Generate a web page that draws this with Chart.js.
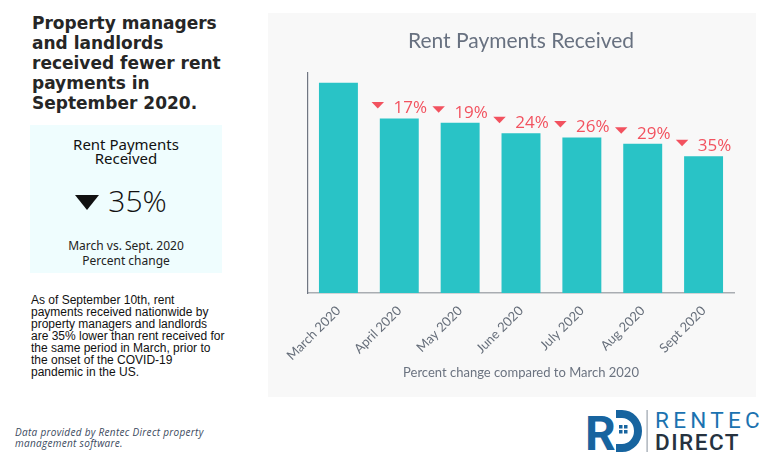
<!DOCTYPE html>
<html>
<head>
<meta charset="utf-8">
<script src="https://cdn.jsdelivr.net/npm/chart.js@4.4.0/dist/chart.umd.min.js"></script>
<style>
  body { margin: 0; width: 771px; height: 465px; background: #fff; position: relative; overflow: hidden; }
  .abs { position: absolute; }
  #heading { left: 32px; top: 13px; font: 700 17px/20px "DejaVu Sans", sans-serif; color: #262626; }
  #card { left: 30px; top: 125px; width: 192px; height: 148px; background: #effdfe; text-align: center; color: #111; }
  #card .t1 { position: absolute; left: 0; right: 0; top: 12px; font: 400 15px/14px "Noto Sans", sans-serif; }
  #card .big { position: absolute; left: 0; right: 10px; top: 61px; font: 300 30px/30px "Open Sans", sans-serif; }
  #card .tri { display: inline-block; width: 0; height: 0; border-left: 12px solid transparent; border-right: 12px solid transparent; border-top: 15px solid #111; margin-right: 9px; vertical-align: 2px; }
  #card .sub { position: absolute; left: 0; right: 0; top: 113px; font: 400 12px/15px "Noto Sans", sans-serif; color: #222; }
  #para { left: 31px; top: 294px; font: 400 12px/12px "Liberation Sans", Arial, sans-serif; color: #111; }
  #foot { left: 15px; top: 427px; font: italic 400 10px/11px "Open Sans", sans-serif; color: #3b4a5e; letter-spacing: 0.3px; }
  #panel { left: 268px; top: 13px; width: 488px; height: 384px; background: #f8f8f8; }
  #logo { left: 585px; top: 406px; }
</style>
</head>
<body>
<div id="heading" class="abs">Property managers<br>and landlords<br>received fewer rent<br>payments in<br>September 2020.</div>

<div id="card" class="abs">
  <div class="t1">Rent Payments<br>Received</div>
  <div class="big"><span class="tri"></span>35%</div>
  <div class="sub">March vs. Sept. 2020<br>Percent change</div>
</div>

<div id="para" class="abs">As of September 10th, rent<br>payments received nationwide by<br>property managers and landlords<br>are 35% lower than rent received for<br>the same period in March, prior to<br>the onset of the COVID-19<br>pandemic in the US.</div>

<div id="foot" class="abs">Data provided by Rentec Direct property<br>management software.</div>

<div id="panel" class="abs"><canvas id="chart" width="488" height="384"></canvas></div>

<svg id="logo" class="abs" width="175" height="50" viewBox="0 0 175 50">
  <text x="0" y="44" font-family="Roboto, sans-serif" font-weight="700" font-size="48" fill="#17649f">R</text>
  <path d="M31 4 h6 a20 21 0 0 1 0 42 h-6 v-8 h6 a12 13 0 0 0 0 -26 h-6 z" fill="#17649f"/>
  <rect x="34" y="19" width="3.5" height="3.5" fill="#17649f"/>
  <rect x="39" y="19" width="3.5" height="3.5" fill="#17649f"/>
  <rect x="34" y="24" width="3.5" height="3.5" fill="#17649f"/>
  <rect x="39" y="24" width="3.5" height="3.5" fill="#17649f"/>
  <rect x="61.5" y="4" width="1.2" height="42" fill="#9aa3ad"/>
  <text x="70" y="22" font-family="Roboto, sans-serif" font-weight="400" font-size="22.5" letter-spacing="4.3" fill="#1b72b0">RENTEC</text>
  <text x="70" y="44" font-family="Roboto, sans-serif" font-weight="500" font-size="22.5" letter-spacing="1.5" fill="#26323f">DIRECT</text>
</svg>

<script>
// Rent payments received, indexed to March 2020 = 100
const months = ['March 2020', 'April 2020', 'May 2020', 'June 2020', 'July 2020', 'Aug 2020', 'Sept 2020'];
const pctDrop = [0, 17, 19, 24, 26, 29, 35];
const received = [100, 83, 81, 76, 74, 71, 65];

const barColor = '#29c3c6';
const dropColor = '#f2525f';

// draws "▼ 17%" above every bar after the first
const dropLabels = {
    id: 'dropLabels',
    afterDatasetsDraw(chart) {
        const ctx = chart.ctx;
        const meta = chart.getDatasetMeta(0);
        ctx.save();
        ctx.font = '400 17px "Open Sans", sans-serif';
        ctx.fillStyle = dropColor;
        ctx.textBaseline = 'alphabetic';
        meta.data.forEach((bar, i) => {
            if (i === 0) return;
            const txt = pctDrop[i] + '%';
            const tw = ctx.measureText(txt).width;
            const triW = 12.5, gap = 9.5;
            const left = bar.x - (triW + gap + tw) / 2;
            const top = bar.y;
            ctx.beginPath();
            ctx.moveTo(left, top - 16.5);
            ctx.lineTo(left + triW, top - 16.5);
            ctx.lineTo(left + triW / 2, top - 10);
            ctx.closePath();
            ctx.fill();
            ctx.fillText(txt, left + triW + gap, top - 5);
        });
        ctx.restore();
    }
};

new Chart(document.getElementById('chart'), {
    type: 'bar',
    data: {
        labels: months,
        datasets: [{
            label: 'Rent payments received',
            data: received,
            backgroundColor: barColor,
            categoryPercentage: 1,
            barPercentage: 0.64
        }]
    },
    options: {
        responsive: false,
        animation: false,
        devicePixelRatio: 1,
        layout: { padding: { left: 40, right: 22, bottom: 12 } },
        plugins: {
            legend: { display: false },
            tooltip: { enabled: false },
            title: {
                display: true,
                text: 'Rent Payments Received',
                color: '#687180',
                font: { family: 'Lato', size: 21, weight: '400' },
                padding: { top: 16, bottom: 18 }
            }
        },
        scales: {
            x: {
                grid: { display: false },
                border: { color: '#a9adb2', width: 1.5 },
                ticks: {
                    color: '#666e7a',
                    font: { family: 'Lato', size: 13 },
                    minRotation: 45,
                    maxRotation: 45,
                    padding: 2
                },
                title: {
                    display: true,
                    text: 'Percent change compared to March 2020',
                    color: '#6b7380',
                    font: { family: 'Lato', size: 13 },
                    padding: { top: 0 }
                }
            },
            y: {
                min: 0,
                max: 105,
                grid: { display: false, drawTicks: false },
                border: { color: '#707682', width: 1.2 },
                ticks: { display: false }
            }
        }
    },
    plugins: [dropLabels]
});
</script>
</body>
</html>
